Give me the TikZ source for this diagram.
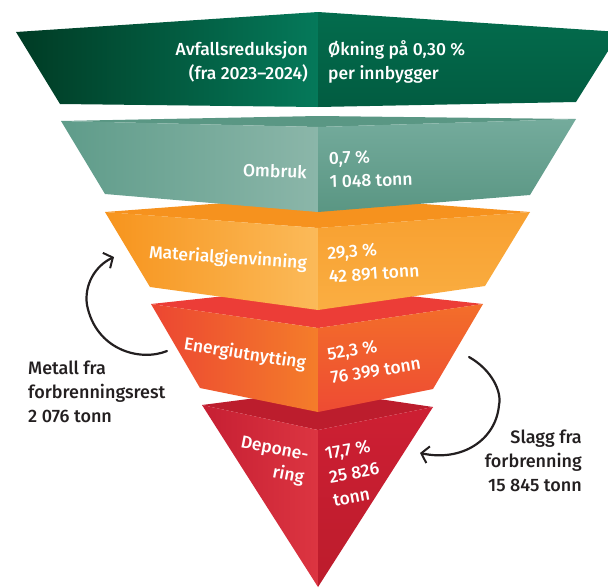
\documentclass[tikz,border=0pt]{standalone}
\usepackage{fontspec}
\setmainfont{Fira Sans Medium}
\usetikzlibrary{arrows.meta}
\definecolor{gDark}{HTML}{003B24}
\definecolor{gLight}{HTML}{05795A}
\definecolor{gRightT}{HTML}{036C4D}
\definecolor{gRightB}{HTML}{025C41}
\definecolor{tTop}{HTML}{5A9784}
\definecolor{tL}{HTML}{5F9C8A}
\definecolor{tR}{HTML}{8BB6A9}
\definecolor{tRightT}{HTML}{74AB9C}
\definecolor{tRightB}{HTML}{5A9683}
\definecolor{oTop}{HTML}{F6921E}
\definecolor{oL}{HTML}{F7941D}
\definecolor{oR}{HTML}{FBBA59}
\definecolor{oRightT}{HTML}{F8A030}
\definecolor{oRightB}{HTML}{FAAE42}
\definecolor{eTop}{HTML}{EC3D37}
\definecolor{eL}{HTML}{EC4632}
\definecolor{eR}{HTML}{F47D2A}
\definecolor{eRightT}{HTML}{F36E2A}
\definecolor{eRightB}{HTML}{EE4B33}
\definecolor{dTop}{HTML}{BC1D2D}
\definecolor{dL}{HTML}{C61F33}
\definecolor{dR}{HTML}{DC3541}
\definecolor{dRightT}{HTML}{CD1F33}
\definecolor{dRightB}{HTML}{BC1C2C}
\definecolor{labelgray}{HTML}{231F20}
\begin{document}
\begin{tikzpicture}[x=1pt,y=-1pt,
  wtxt/.style={text=white, font=\fontsize{17.5}{23.5}\selectfont, inner sep=0pt},
  dtxt/.style={text=labelgray, font=\fontsize{18}{24}\selectfont, inner sep=0pt},
  loopline/.style={draw=labelgray, line width=2.2pt, line cap=round,
    -{Straight Barb[length=7pt,width=17pt,line width=2pt]}}]
\useasboundingbox (0,0) rectangle (608,587);
% ---------- Deponering ----------
\fill[dTop] (202,405) -- (318,390) -- (433,407) -- (318,430) -- cycle;
\shade[left color=dL, right color=dR] (202,405) -- (318,430) -- (318,587) -- cycle;
\shade[top color=dRightT, bottom color=dRightB] (318,430) -- (433,407) -- (318,587) -- cycle;
% ---------- Energiutnytting ----------
\fill[eTop] (151,304) -- (318,286) -- (483,304) -- (318,328) -- cycle;
\shade[left color=eL, right color=eR] (151,304) -- (318,328) -- (318,412) -- (200,388) -- cycle;
\shade[top color=eRightT, bottom color=eRightB] (318,328) -- (483,304) -- (433,389) -- (318,412) -- cycle;
% ---------- Materialgjenvinning ----------
\fill[oTop] (105,212) -- (318,196) -- (530,212) -- (318,228) -- cycle;
\shade[left color=oL, right color=oR] (105,212) -- (318,228) -- (318,310) -- (150,287) -- cycle;
\shade[top color=oRightT, bottom color=oRightB] (318,228) -- (530,212) -- (485,286) -- (318,310) -- cycle;
% ---------- Ombruk ----------
\fill[tTop] (61,121) -- (318,116) -- (576,119) -- (318,127) -- cycle;
\shade[left color=tL, right color=tR] (61,121) -- (318,127) -- (318,212) -- (105,194) -- cycle;
\shade[top color=tRightT, bottom color=tRightB] (318,127) -- (576,119) -- (530,195) -- (318,212) -- cycle;
% ---------- Avfallsreduksjon ----------
\shade[left color=gDark, right color=gLight] (16,32) -- (318,12) -- (318,107) -- (60,104) -- cycle;
\shade[top color=gRightT, bottom color=gRightB] (318,12) -- (620,32) -- (576,102) -- (318,107) -- cycle;
% ---------- texts ----------
\node[wtxt, anchor=east, align=right] (avf) at (308,62) {Avfallsreduksjon\\(fra 2023–2024)};
\node[wtxt, anchor=west, align=left] (avfv) at (328,62) {Økning på 0,30 \%\\per innbygger};
\node[wtxt, anchor=east, rotate=-2] (omb) at (307,172) {Ombruk};
\node[wtxt, anchor=west, align=left, rotate=2] (ombv) at (329,170) {0,7 \%\\1 048 tonn};
\node[wtxt, anchor=east, rotate=-4] (mat) at (307,264) {Materialgjenvinning};
\node[wtxt, anchor=west, align=left, rotate=4] (matv) at (328,265) {29,3 \%\\42 891 tonn};
\node[wtxt, anchor=east, rotate=-9] (ene) at (306,364) {Energiutnytting};
\node[wtxt, anchor=west, align=left, rotate=9] (enev) at (329,366) {52,3 \%\\76 399 tonn};
\node[wtxt, anchor=east, align=right, rotate=-11] (dep) at (306,468) {Depone-\\ring};
\node[wtxt, anchor=west, align=left, rotate=10] (depv) at (329,477) {17,7 \%\\25 826\\tonn};
\node[dtxt, anchor=west, align=left] (metall) at (28,392) {Metall fra\\forbrenningsrest\\2 076 tonn};
\node[dtxt, anchor=east, align=right] (slagg) at (582,461) {Slagg fra\\forbrenning\\15 845 tonn};
% ---------- arrows ----------
\coordinate (lstart) at (167,351);
\coordinate (lmid) at (87,305);
\coordinate (lend) at (114,257);
\coordinate (rstart) at (469,357);
\coordinate (rmid) at (499,405);
\coordinate (rend) at (420,453);
\draw[loopline] (lstart) .. controls (140,362) and (96,350) .. (lmid)
  .. controls (84,285) and (95,266) .. (lend);
\draw[loopline] (rstart) .. controls (492,370) and (502,392) .. (rmid)
  .. controls (496,440) and (462,462) .. (rend);
\end{tikzpicture}
\end{document}
